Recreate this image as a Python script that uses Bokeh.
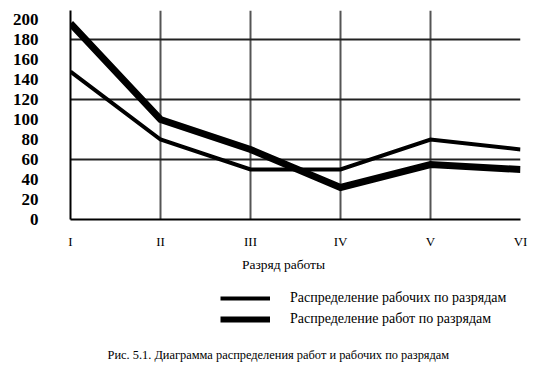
from bokeh.plotting import figure
from bokeh.models import Range1d, FixedTicker, Legend, LegendItem, Label
from bokeh.layouts import column
from bokeh.embed import file_html
from bokeh.resources import INLINE

# Data
grades = ["I", "II", "III", "IV", "V", "VI"]
grade_pos = [1, 2, 3, 4, 5, 6]
workers = [148, 80, 50, 50, 80, 70]   # Распределение рабочих по разрядам
works = [196, 100, 70, 32, 55, 50]    # Распределение работ по разрядам
y_ticks = [0, 20, 40, 60, 80, 100, 120, 140, 160, 180, 200]
grid_y = [60, 120, 180]
series_names = ["Распределение рабочих по разрядам", "Распределение работ по разрядам"]
x_title = "Разряд работы"
caption = "Рис. 5.1. Диаграмма распределения работ и рабочих по разрядам"

FONT = "Liberation Serif"

p = figure(width=541, height=252, output_backend="svg", toolbar_location=None,
           x_range=Range1d(1, 6), y_range=Range1d(0, 209),
           min_border_left=70, min_border_right=21, min_border_top=10,
           min_border_bottom=33)
p.outline_line_color = None
p.background_fill_color = "white"
p.border_fill_color = "white"

# grid
p.xgrid.ticker = FixedTicker(ticks=grade_pos[1:])
p.xgrid.grid_line_color = "#555555"
p.xgrid.grid_line_width = 2
p.ygrid.ticker = FixedTicker(ticks=grid_y)
p.ygrid.grid_line_color = "#222222"
p.ygrid.grid_line_width = 2

# axes
p.xaxis.ticker = FixedTicker(ticks=grade_pos)
p.xaxis.major_label_overrides = {x: g for x, g in zip(grade_pos, grades)}
p.xaxis.major_tick_out = 0
p.xaxis.major_tick_in = 0
p.xaxis.minor_tick_out = 0
p.xaxis.minor_tick_in = 0
p.xaxis.axis_line_color = "black"
p.xaxis.axis_line_width = 2
p.xaxis.major_label_text_font = FONT
p.xaxis.major_label_text_font_size = "13px"
p.xaxis.major_label_text_color = "black"
p.xaxis.major_label_standoff = 14

p.yaxis.ticker = FixedTicker(ticks=y_ticks)
p.yaxis.major_tick_out = 0
p.yaxis.major_tick_in = 0
p.yaxis.minor_tick_out = 0
p.yaxis.minor_tick_in = 0
p.yaxis.axis_line_color = "black"
p.yaxis.axis_line_width = 2
p.yaxis.major_label_text_font = FONT
p.yaxis.major_label_text_font_size = "17px"
p.yaxis.major_label_text_font_style = "bold"
p.yaxis.major_label_text_color = "black"
p.yaxis.major_label_standoff = 32

p.line(grade_pos, workers, line_color="black", line_width=4, line_join="miter")
p.line(grade_pos, works, line_color="black", line_width=7, line_join="miter")

# Axis title + legend + caption panel (frame aligned with the chart frame: x 70..520)
q = figure(width=541, height=117, output_backend="svg", toolbar_location=None,
           x_range=Range1d(0, 1), y_range=Range1d(0, 1),
           min_border_left=70, min_border_right=21, min_border_top=0,
           min_border_bottom=0)
q.axis.visible = False
q.grid.visible = False
q.outline_line_color = None
q.background_fill_color = "white"
q.border_fill_color = "white"

nan = float("nan")
l1 = q.line([nan], [nan], line_color="black", line_width=4)
l2 = q.line([nan], [nan], line_color="black", line_width=6)

xt = Label(x=213, y=105, x_units="screen", y_units="screen", text=x_title,
           text_font=FONT, text_font_size="13.5px", text_baseline="middle",
           text_align="center", text_color="black")
q.add_layout(xt)

legend = Legend(items=[LegendItem(label=series_names[0], renderers=[l1]),
                       LegendItem(label=series_names[1], renderers=[l2])],
                location=(150, 40), glyph_width=50, glyph_height=20,
                label_height=20, label_standoff=20, spacing=1, padding=0,
                margin=0, border_line_color=None, background_fill_alpha=0,
                label_text_font=FONT, label_text_font_size="14px",
                label_text_color="black")
q.add_layout(legend)

cap = Label(x=37, y=15, x_units="screen", y_units="screen", text=caption,
            text_font=FONT, text_font_size="12.4px", text_baseline="middle",
            text_color="black")
q.add_layout(cap)

open("out.html", "w").write(file_html(column(p, q, spacing=0), INLINE))
